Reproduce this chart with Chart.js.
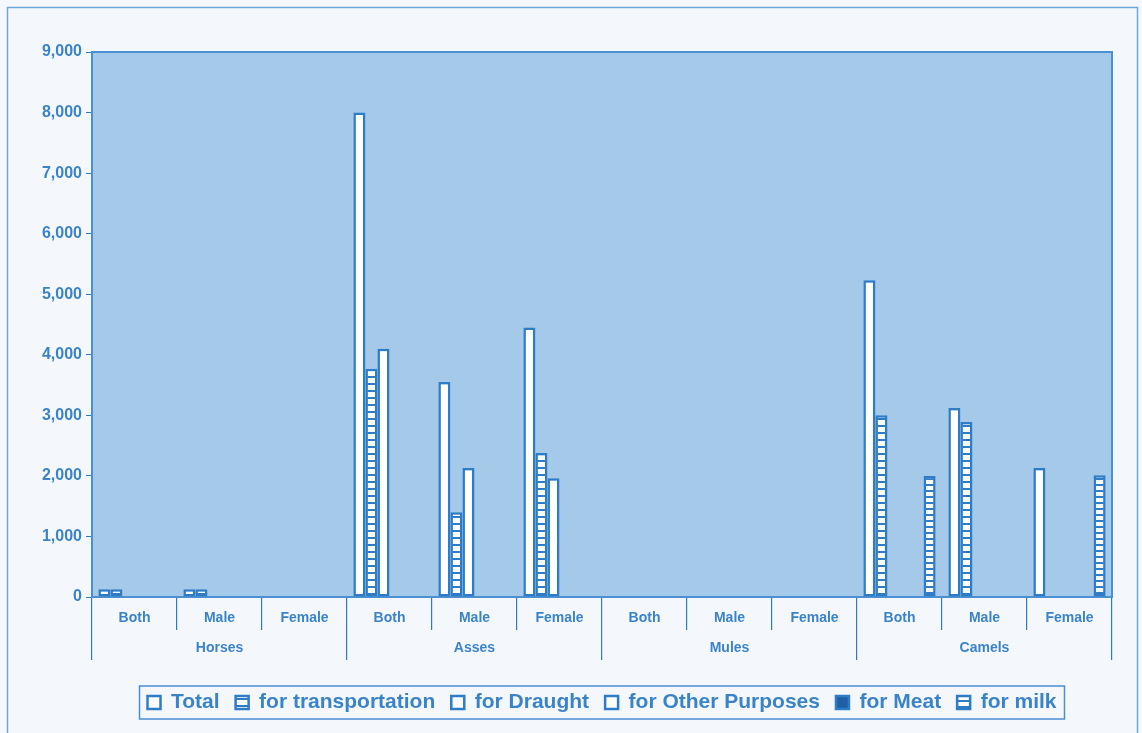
<!DOCTYPE html>
<html>
<head>
<meta charset="utf-8">
<script src="https://cdn.jsdelivr.net/npm/chart.js@4.4.1/dist/chart.umd.min.js"></script>
<style>
  html, body { margin: 0; padding: 0; background: #f4f8fc; }
  #wrap { width: 1142px; height: 733px; }
</style>
</head>
<body>
<div id="wrap"><canvas id="chart"></canvas></div>
<script>
const animals = ['Horses', 'Asses', 'Mules', 'Camels'];
const sexes = ['Both', 'Male', 'Female'];
const categories = animals.flatMap(() => sexes);

const total          = [130, 130, 0, 8000, 3550, 4450, 0, 0, 0, 5230, 3120, 2130];
const transportation = [130, 130, 0, 3770, 1400, 2380, 0, 0, 0, 3000, 2890, 0];
const draught        = [0, 0, 0, 4100, 2130, 1960, 0, 0, 0, 0, 0, 0];
const otherPurposes  = [0, 0, 0, 0, 0, 0, 0, 0, 0, 0, 0, 0];
const meat           = [0, 0, 0, 0, 0, 0, 0, 0, 0, 0, 0, 0];
const milk           = [0, 0, 0, 0, 0, 0, 0, 0, 0, 2000, 0, 2010];

const yMax = 9000;
const yStep = 1000;

const blue = '#2f7cc6';
const textBlue = '#3b83c9';
const font = { family: '"Liberation Sans", Arial, sans-serif', weight: 'bold', size: 14 };

function ladder(gap) {
    const c = document.createElement('canvas');
    c.width = 8; c.height = gap;
    const g = c.getContext('2d');
    g.fillStyle = '#ffffff';
    g.fillRect(0, 0, 8, gap);
    g.fillStyle = blue;
    g.fillRect(0, gap - 2, 8, 2);
    return g.createPattern(c, 'repeat');
}

const frame = {
    id: 'frame',
    beforeDraw(chart) {
        const { ctx, chartArea: a, width, height } = chart;
        ctx.save();
        ctx.fillStyle = '#f4f8fc';
        ctx.fillRect(0, 0, width, height);
        ctx.strokeStyle = '#6fa6da';
        ctx.lineWidth = 1.5;
        ctx.strokeRect(7.5, 7.5, width - 12, height + 20);
        ctx.fillStyle = '#a5c9e8';
        ctx.fillRect(a.left, a.top, a.right - a.left, a.bottom - a.top);
        ctx.restore();
    },
    beforeDatasetsDraw(chart) {
        const { ctx, chartArea: a } = chart;
        ctx.save();
        ctx.strokeStyle = '#4a90d2';
        ctx.lineWidth = 2;
        ctx.strokeRect(a.left, a.top, a.right - a.left, a.bottom - a.top);
        ctx.restore();
    },
    afterDraw(chart) {
        const boxes = chart.legend.legendHitBoxes;
        if (!boxes || !boxes.length) return;
        const left = Math.min(...boxes.map(b => b.left)) - 8;
        const right = Math.max(...boxes.map(b => b.left + b.width)) + 8;
        const top = boxes[0].top - 6;
        const bottom = boxes[0].top + boxes[0].height + 6;
        const { ctx } = chart;
        ctx.save();
        ctx.strokeStyle = '#4a8fd0';
        ctx.lineWidth = 1.5;
        ctx.strokeRect(left, top, right - left, bottom - top);
        ctx.restore();
    }
};

const barStyle = { borderColor: blue, borderWidth: 2.5, borderSkipped: false, xAxisID: 'x' };

new Chart(document.getElementById('chart'), {
    type: 'bar',
    data: {
        labels: categories,
        datasets: [
            { label: 'Total', data: total, backgroundColor: '#ffffff', ...barStyle },
            { label: 'for transportation', data: transportation, backgroundColor: ladder(7), ...barStyle },
            { label: 'for Draught', data: draught, backgroundColor: '#ffffff', ...barStyle },
            { label: 'for Other Purposes', data: otherPurposes, backgroundColor: '#ffffff', ...barStyle },
            { label: 'for Meat', data: meat, backgroundColor: '#1f5fa6', ...barStyle },
            { label: 'for milk', data: milk, backgroundColor: ladder(6), ...barStyle }
        ]
    },
    options: {
        responsive: true,
        maintainAspectRatio: false,
        animation: false,
        layout: { padding: { top: 52, left: 0, right: 30, bottom: 10 } },
        datasets: { bar: { categoryPercentage: 0.85, barPercentage: 1 } },
        plugins: {
            tooltip: { enabled: false },
            legend: {
                position: 'bottom',
                fullSize: false,
                labels: {
                    color: textBlue,
                    font: { ...font, size: 21 },
                    boxWidth: 13,
                    boxHeight: 13,
                    padding: 16
                }
            }
        },
        scales: {
            x: {
                offset: true,
                grid: { offset: true, drawOnChartArea: false, tickLength: 33, color: blue, lineWidth: 1.2 },
                border: { display: true, color: blue, width: 2 },
                ticks: { color: textBlue, font, padding: -20, maxRotation: 0, autoSkip: false },
                afterFit: s => { s.height = 33; }
            },
            x2: {
                type: 'category',
                labels: animals,
                position: 'bottom',
                offset: true,
                grid: { offset: true, drawOnChartArea: false, tickLength: 30, color: blue, lineWidth: 1.2 },
                border: { display: false },
                ticks: { color: textBlue, font, padding: -20, maxRotation: 0 },
                afterFit: s => { s.height = 46; }
            },
            y: {
                min: 0,
                max: yMax,
                grid: { drawOnChartArea: false, tickLength: 6, color: blue },
                border: { display: true, color: blue, width: 2 },
                ticks: {
                    stepSize: yStep,
                    color: textBlue,
                    font: { ...font, size: 16 },
                    padding: 4,
                    callback: v => v.toLocaleString('en-US')
                },
                afterFit: s => { s.width = 92; }
            }
        }
    },
    plugins: [frame]
});
</script>
</body>
</html>
